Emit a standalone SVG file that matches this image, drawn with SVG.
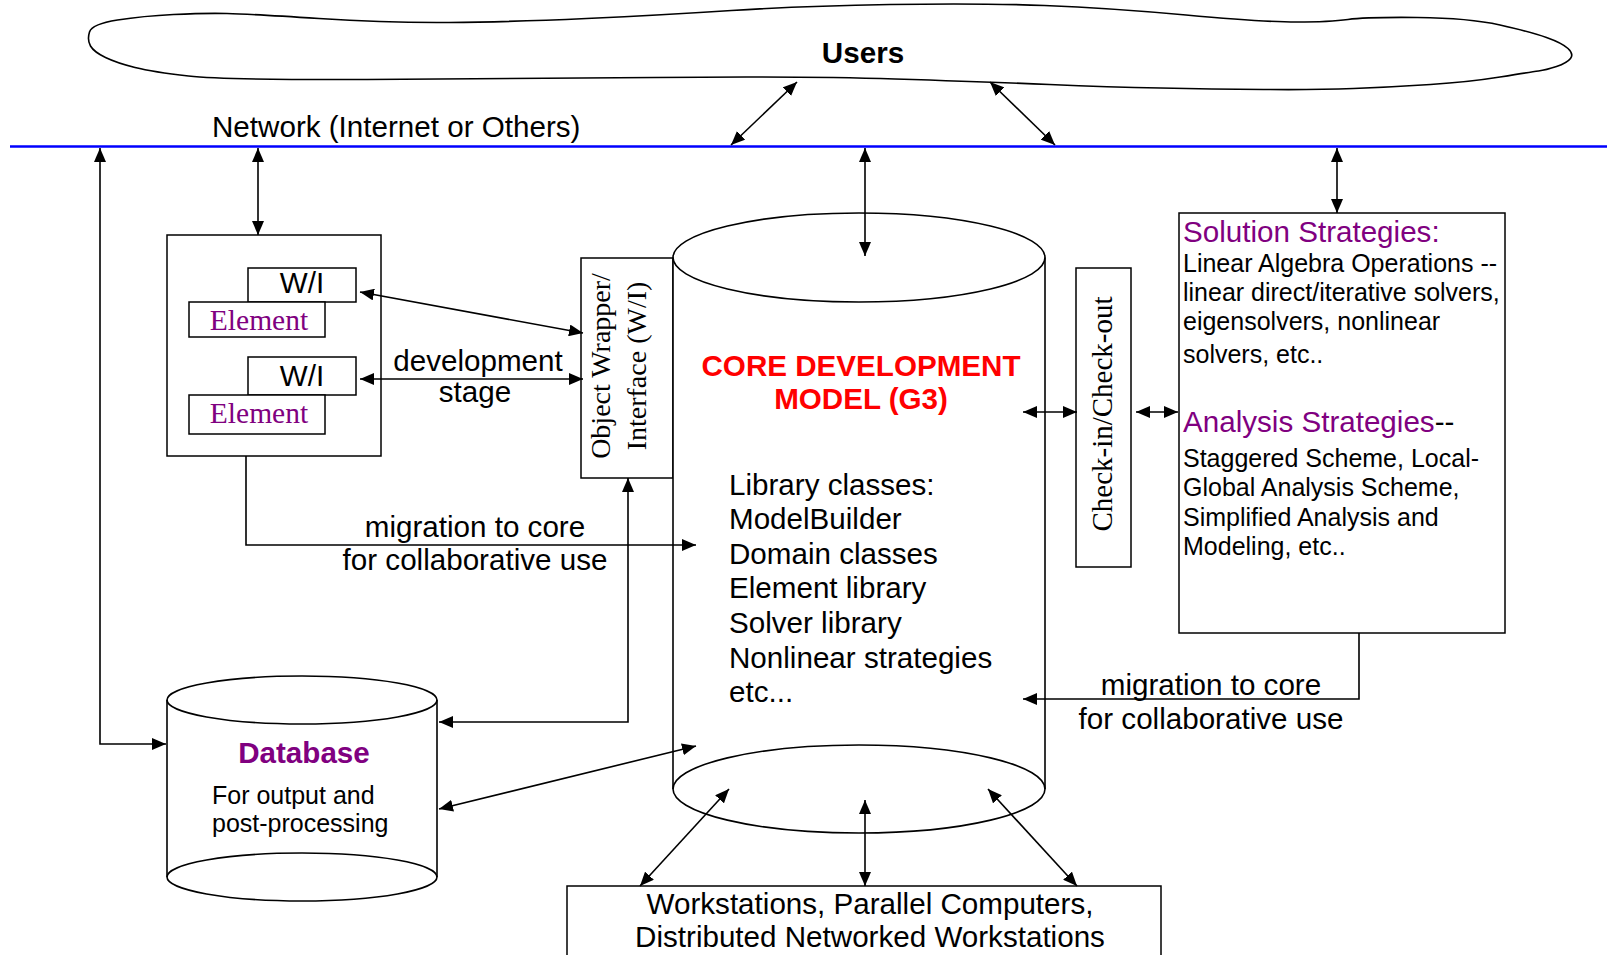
<svg xmlns="http://www.w3.org/2000/svg" width="1607" height="955" viewBox="0 0 1607 955">
<style>
.s{font-family:"Liberation Sans",Arial,sans-serif;font-size:29.6px;fill:#000}
.sm{font-size:25px}
.b{font-weight:bold}
.serif{font-family:"Liberation Serif","Times New Roman",serif;font-size:28px;fill:#000}
.el{font-size:29.5px}
.purple{fill:#800080}
.red{fill:#ff0000}
.box{fill:#fff;stroke:#000;stroke-width:1.5}
.ln{fill:none;stroke:#000;stroke-width:1.6}
.conn{fill:none;stroke:#000;stroke-width:1.6;marker-end:url(#ah)}
.both{marker-start:url(#ah)}
</style>
<defs>
<marker id="ah" viewBox="0 0 14 12" refX="14" refY="6" markerWidth="14" markerHeight="12" markerUnits="userSpaceOnUse" orient="auto-start-reverse">
<path d="M0,0 L14,6 L0,12 Z" fill="#000"/>
</marker>
</defs>
<rect width="1607" height="955" fill="#fff"/>

<g id="users">
<path class="ln" stroke-width="2" d="M 89.5,32 Q 92,24 117.5,20 Q 143,16 173.5,14.5 Q 204,13 227,13.5 Q 250,14 319,18.5 Q 388,23 449,22.5 Q 510,22 586.5,18.5 Q 663,15 731.5,10.5 Q 800,6 890,4.5 Q 980,3 1044.5,5.5 Q 1109,8 1186,15 Q 1263,22 1296.5,22 Q 1330,22 1348,19.5 Q 1366,17 1417.5,17.5 Q 1469,18 1500,25 Q 1531,32 1546.5,37.5 Q 1562,43 1568,48.5 Q 1574,54 1570.5,58.5 Q 1567,63 1556.5,66.5 Q 1546,70 1538.5,71 Q 1531,72 1500,77 Q 1469,82 1430.5,84.5 Q 1392,87 1353.5,88.5 Q 1315,90 1263.5,89.5 Q 1212,89 1160.5,88 Q 1109,87 1049.5,84.5 Q 990,82 895,79 Q 800,76 655,77.5 Q 510,79 367,79.5 Q 224,80 188.5,76 Q 153,72 135,67.5 Q 117,63 105.5,57.5 Q 94,52 90.5,46 Q 87,40 89.5,32 Z"/>
<text class="s b" x="863" y="63" text-anchor="middle">Users</text>
</g>

<g id="network">
<line x1="10" y1="146.5" x2="1607" y2="146.5" stroke="#0000ff" stroke-width="2.6"/>
<text class="s" x="212" y="137">Network (Internet or Others)</text>
</g>

<g id="dev-box">
<rect class="box" x="167" y="235" width="214" height="221"/>
<rect class="box" x="248" y="268" width="108" height="34"/>
<text class="s" x="302" y="293" text-anchor="middle">W/I</text>
<rect class="box" x="189" y="302" width="136" height="35"/>
<text class="serif el purple" x="259" y="330" text-anchor="middle">Element</text>
<rect class="box" x="248" y="357" width="108" height="38"/>
<text class="s" x="302" y="386" text-anchor="middle">W/I</text>
<rect class="box" x="189" y="395" width="136" height="39"/>
<text class="serif el purple" x="259" y="423" text-anchor="middle">Element</text>
</g>

<g id="object-wrapper">
<rect class="box" x="581" y="258" width="92" height="220"/>
<text class="serif" transform="translate(610,366) rotate(-90)" text-anchor="middle">Object Wrapper/</text>
<text class="serif" transform="translate(646,366) rotate(-90)" text-anchor="middle">Interface (W/I)</text>
</g>

<g id="core">
<rect x="673" y="257.5" width="372" height="531.5" fill="#fff"/>
<line class="ln" x1="673" y1="257.5" x2="673" y2="789"/>
<line class="ln" x1="1045" y1="257.5" x2="1045" y2="789"/>
<ellipse class="ln" cx="859" cy="257.5" rx="186" ry="44.5" fill="#fff"/>
<ellipse class="ln" cx="859" cy="789" rx="186" ry="44"/>
<text class="s b red" x="861" y="376" text-anchor="middle">CORE DEVELOPMENT</text>
<text class="s b red" x="861" y="409" text-anchor="middle">MODEL (G3)</text>
<text class="s" x="729" y="495">Library classes:</text>
<text class="s" x="729" y="529">ModelBuilder</text>
<text class="s" x="729" y="564">Domain classes</text>
<text class="s" x="729" y="598">Element library</text>
<text class="s" x="729" y="633">Solver library</text>
<text class="s" x="729" y="668">Nonlinear strategies</text>
<text class="s" x="729" y="702">etc...</text>
</g>

<g id="checkin">
<rect class="box" x="1076" y="268" width="55" height="299"/>
<text class="serif" transform="translate(1112,414) rotate(-90)" text-anchor="middle" style="font-size:29px">Check-in/Check-out</text>
</g>

<g id="solution">
<rect class="box" x="1179" y="213" width="326" height="420"/>
<text class="s purple" x="1183" y="242">Solution Strategies:</text>
<text class="s sm" x="1183" y="272">Linear Algebra Operations --</text>
<text class="s sm" x="1183" y="301">linear direct/iterative solvers,</text>
<text class="s sm" x="1183" y="330">eigensolvers, nonlinear</text>
<text class="s sm" x="1183" y="363">solvers, etc..</text>
<text class="s" x="1183" y="432"><tspan class="purple">Analysis Strategies</tspan>--</text>
<text class="s sm" x="1183" y="467">Staggered Scheme, Local-</text>
<text class="s sm" x="1183" y="496">Global Analysis Scheme,</text>
<text class="s sm" x="1183" y="526">Simplified Analysis and</text>
<text class="s sm" x="1183" y="555">Modeling, etc..</text>
</g>

<g id="database">
<rect x="167" y="700" width="270" height="177" fill="#fff"/>
<line class="ln" x1="167" y1="700" x2="167" y2="877"/>
<line class="ln" x1="437" y1="700" x2="437" y2="877"/>
<ellipse class="ln" cx="302" cy="700" rx="135" ry="24"/>
<ellipse class="ln" cx="302" cy="877" rx="135" ry="24"/>
<text class="s b purple" x="304" y="763" text-anchor="middle">Database</text>
<text class="s sm" x="212" y="804">For output and</text>
<text class="s sm" x="212" y="832">post-processing</text>
</g>

<g id="workstations">
<rect class="box" x="567" y="886" width="594" height="90"/>
<text class="s" x="870" y="914" text-anchor="middle">Workstations, Parallel Computers,</text>
<text class="s" x="870" y="947" text-anchor="middle">Distributed Networked Workstations</text>
</g>

<g id="connectors">
<path class="conn both" d="M100,148 L100,744 L166,744"/>
<path class="conn both" d="M258,148 L258,235"/>
<path class="conn both" d="M731,145 L797,82"/>
<path class="conn both" d="M990,82 L1055,145"/>
<path class="conn both" d="M865,148 L865,256"/>
<path class="conn both" d="M1337,148 L1337,213"/>
<path class="conn both" d="M360,292 L583,333"/>
<path class="conn both" d="M360,379 L583,379"/>
<path class="conn" d="M246,456 L246,545 L696,545"/>
<path class="conn both" d="M628,478 L628,722 L439,722"/>
<path class="conn both" d="M439,809 L696,746"/>
<path class="conn both" d="M1023,412 L1077,412"/>
<path class="conn both" d="M1136,412 L1178,412"/>
<path class="conn" d="M1359,633 L1359,699 L1023,699"/>
<path class="conn both" d="M729,789 L640,886"/>
<path class="conn both" d="M865,800 L865,886"/>
<path class="conn both" d="M988,789 L1077,886"/>
</g>

<g id="labels">
<text class="s" x="478" y="371" text-anchor="middle">development</text>
<text class="s" x="475" y="402" text-anchor="middle">stage</text>
<text class="s" x="475" y="537" text-anchor="middle">migration to core</text>
<text class="s" x="475" y="570" text-anchor="middle">for collaborative use</text>
<text class="s" x="1211" y="695" text-anchor="middle">migration to core</text>
<text class="s" x="1211" y="729" text-anchor="middle">for collaborative use</text>
</g>
</svg>
